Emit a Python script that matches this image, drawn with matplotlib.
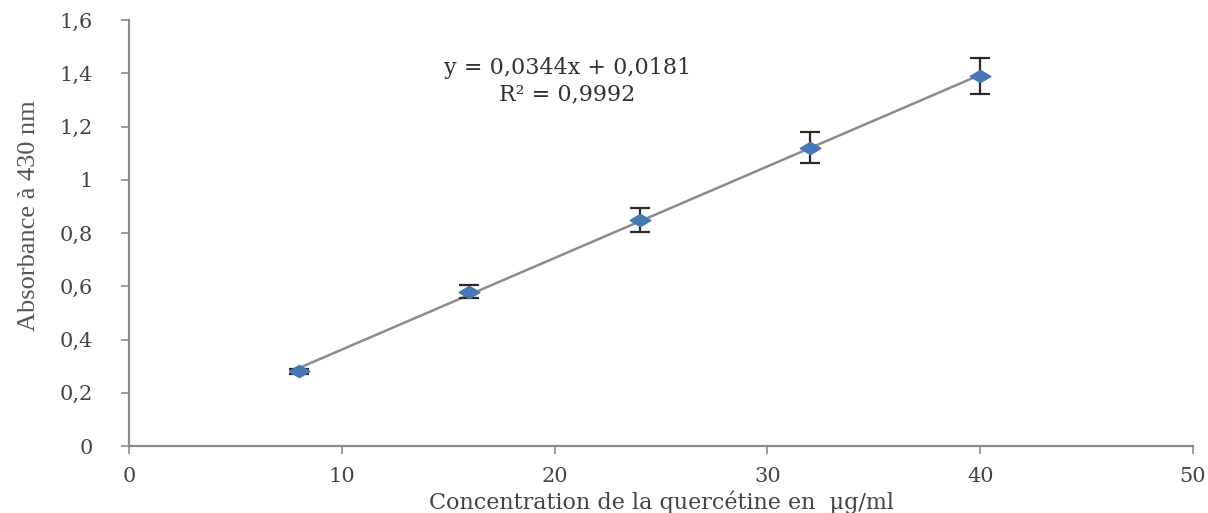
import matplotlib
matplotlib.use("Agg")
import matplotlib.pyplot as plt
from matplotlib.ticker import FuncFormatter

# calibration data (quercetin standard curve)
conc = [8, 16, 24, 32, 40]
absorbance = [0.28, 0.58, 0.85, 1.12, 1.39]
err = [0.01, 0.025, 0.045, 0.058, 0.068]
slope, intercept = 0.0344, 0.0181
r2 = 0.9992

plt.rcParams['font.family'] = ['DejaVu Serif', 'DejaVu Sans']

fig = plt.figure(figsize=(12.08, 5.13), dpi=100)
ax = fig.add_axes([0.1068, 0.1306, 0.8808, 0.8304])

# linear trend line over the measured range
fit_x = [conc[0], conc[-1]]
fit_y = [slope * v + intercept for v in fit_x]
ax.plot(fit_x, fit_y, color='#8c8c8c', lw=1.8, zorder=1)

# wide diamond marker
wide_diamond = [(-1.7, 0), (0, 1), (1.7, 0), (0, -1), (-1.7, 0)]
ax.errorbar(conc, absorbance, yerr=err, fmt='none',
            ecolor='#2a2a2a', elinewidth=1.6, capsize=7.5, capthick=1.6, zorder=2)
ax.plot(conc, absorbance, linestyle='none', marker=wide_diamond, ms=15,
        color='#4677B6', mec='#4677B6', zorder=3)

eq = "y = %sx + %s\nR² = %s" % (('%.4f' % slope).replace('.', ','),
                                 ('%.4f' % intercept).replace('.', ','),
                                 ('%.4f' % r2).replace('.', ','))
ax.text(20.6, 1.37, eq, ha='center', va='center',
        fontsize=16, color='#333333', linespacing=1.3)

ax.set_xlim(0, 50)
ax.set_ylim(0, 1.6)
ax.set_xticks([0, 10, 20, 30, 40, 50])
ax.set_yticks([0, 0.2, 0.4, 0.6, 0.8, 1.0, 1.2, 1.4, 1.6])
ax.yaxis.set_major_formatter(FuncFormatter(lambda v, p: ('%g' % round(v, 1)).replace('.', ',')))

for s in ['top', 'right']:
    ax.spines[s].set_visible(False)
for s in ['left', 'bottom']:
    ax.spines[s].set_color('#8a8a8a')
    ax.spines[s].set_linewidth(1.6)
ax.tick_params(colors='#8a8a8a', labelcolor='#444444', labelsize=15, length=6, width=1.2)
ax.tick_params(axis='x', pad=9)
ax.tick_params(axis='y', pad=20)

ax.set_xlabel("Concentration de la quercétine en  µg/ml", fontsize=16,
              color='#444444', labelpad=3)
ax.set_ylabel("Absorbance à 430 nm", fontsize=19, color='#555555',
              family=['Liberation Serif', 'DejaVu Serif'])
ax.yaxis.set_label_coords(-0.084, 0.54)

fig.savefig("out.png", dpi=100)
